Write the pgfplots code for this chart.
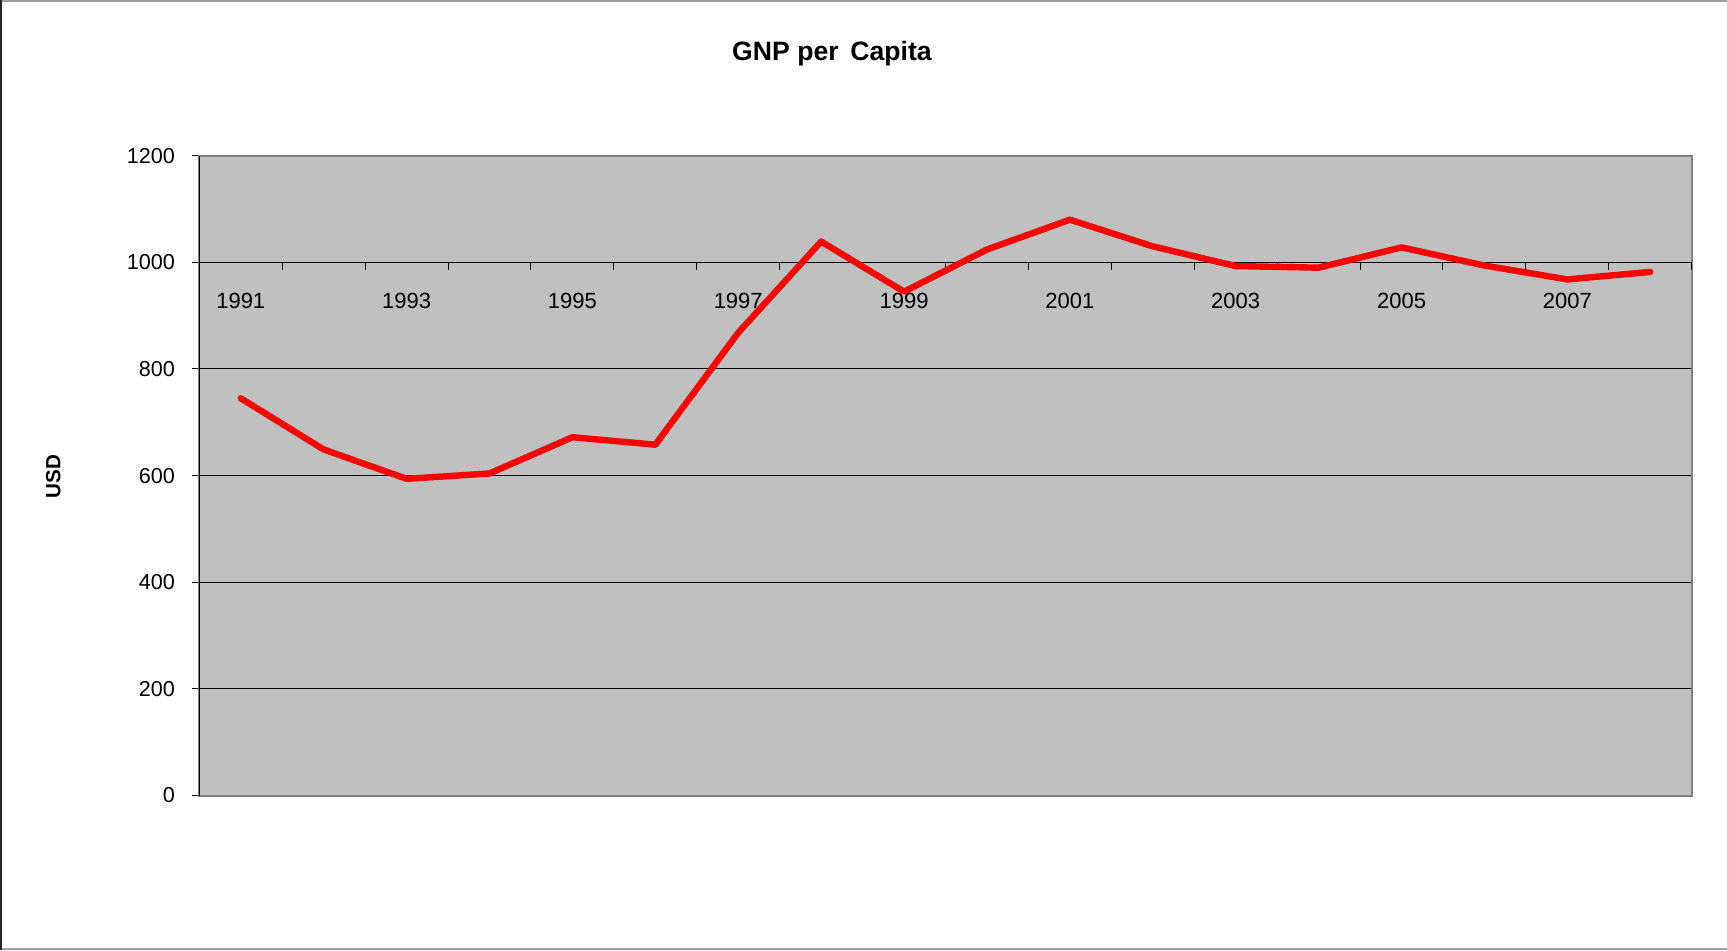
\documentclass[border=0pt]{standalone}
\usepackage{pgfplots}
\pgfplotsset{compat=1.18}
\usepackage{fontspec}
\setmainfont{Liberation Sans}
\definecolor{excelgray}{RGB}{192,192,192}
\definecolor{bordergray}{RGB}{128,128,128}
\definecolor{framegray}{RGB}{160,160,160}
\begin{document}
\begin{tikzpicture}
\useasboundingbox (0,0) rectangle (863.5pt,475pt);
\draw[framegray, line width=1pt] (0,474.5pt) -- (863.5pt,474.5pt);
\draw[framegray, line width=1pt] (0,0.5pt) -- (863.5pt,0.5pt);
\draw[black!85, line width=1pt] (0.5pt,0) -- (0.5pt,475pt);
\node[anchor=base, font=\bfseries\fontsize{13.3}{16}\selectfont] at (416pt,444.6pt) {GNP per\, Capita};
\node[rotate=90, font=\bfseries\fontsize{10.3}{12}\selectfont] at (26.6pt,236.8pt) {USD};
\begin{axis}[
  at={(99.65pt,77.25pt)}, anchor=south west,
  scale only axis, width=746.2pt, height=319.9pt,
  xmin=0.5, xmax=18.5, ymin=0, ymax=1200,
  xtick=\empty, ytick={0,200,...,1200},
  ymajorgrids, grid style={black, line width=0.5pt},
  axis background/.style={fill=excelgray},
  axis line style={draw=bordergray, line width=1pt},
  tick align=outside, major tick length=3.5pt,
  ytick pos=left,
  every tick/.style={black, line width=0.5pt},
  yticklabel style={font=\fontsize{10.8}{13}\selectfont, inner xsep=0pt, xshift=-8.5pt},
  /pgf/number format/assume math mode=true,
  /pgf/number format/1000 sep={},
  clip=false,
]
\draw[black, line width=0.6pt] (axis cs:0.5,0) -- (axis cs:0.5,1200);
\draw[black, line width=0.6pt] (axis cs:0.5,1000) -- (axis cs:18.5,1000);
\pgfplotsinvokeforeach{1.5,2.5,3.5,4.5,5.5,6.5,7.5,8.5,9.5,10.5,11.5,12.5,13.5,14.5,15.5,16.5,17.5,18.5}{
  \draw[black, line width=0.5pt] (axis cs:#1,1000) -- ([yshift=-4pt]axis cs:#1,1000);
}
\node[anchor=base, yshift=-23pt, font=\fontsize{11}{13}\selectfont] at (axis cs:1,1000) {1991};
\node[anchor=base, yshift=-23pt, font=\fontsize{11}{13}\selectfont] at (axis cs:3,1000) {1993};
\node[anchor=base, yshift=-23pt, font=\fontsize{11}{13}\selectfont] at (axis cs:5,1000) {1995};
\node[anchor=base, yshift=-23pt, font=\fontsize{11}{13}\selectfont] at (axis cs:7,1000) {1997};
\node[anchor=base, yshift=-23pt, font=\fontsize{11}{13}\selectfont] at (axis cs:9,1000) {1999};
\node[anchor=base, yshift=-23pt, font=\fontsize{11}{13}\selectfont] at (axis cs:11,1000) {2001};
\node[anchor=base, yshift=-23pt, font=\fontsize{11}{13}\selectfont] at (axis cs:13,1000) {2003};
\node[anchor=base, yshift=-23pt, font=\fontsize{11}{13}\selectfont] at (axis cs:15,1000) {2005};
\node[anchor=base, yshift=-23pt, font=\fontsize{11}{13}\selectfont] at (axis cs:17,1000) {2007};
% years 1991..2008 plotted at positions 1..18
\addplot[red, line width=3.2pt, line join=round, line cap=round, mark=none] coordinates {
  (1,745) (2,649) (3,594) (4,604) (5,672) (6,658)
  (7,868) (8,1039) (9,945) (10,1024) (11,1080) (12,1030)
  (13,993) (14,990) (15,1028) (16,994) (17,968) (18,982)
};
\end{axis}
\end{tikzpicture}
\end{document}
